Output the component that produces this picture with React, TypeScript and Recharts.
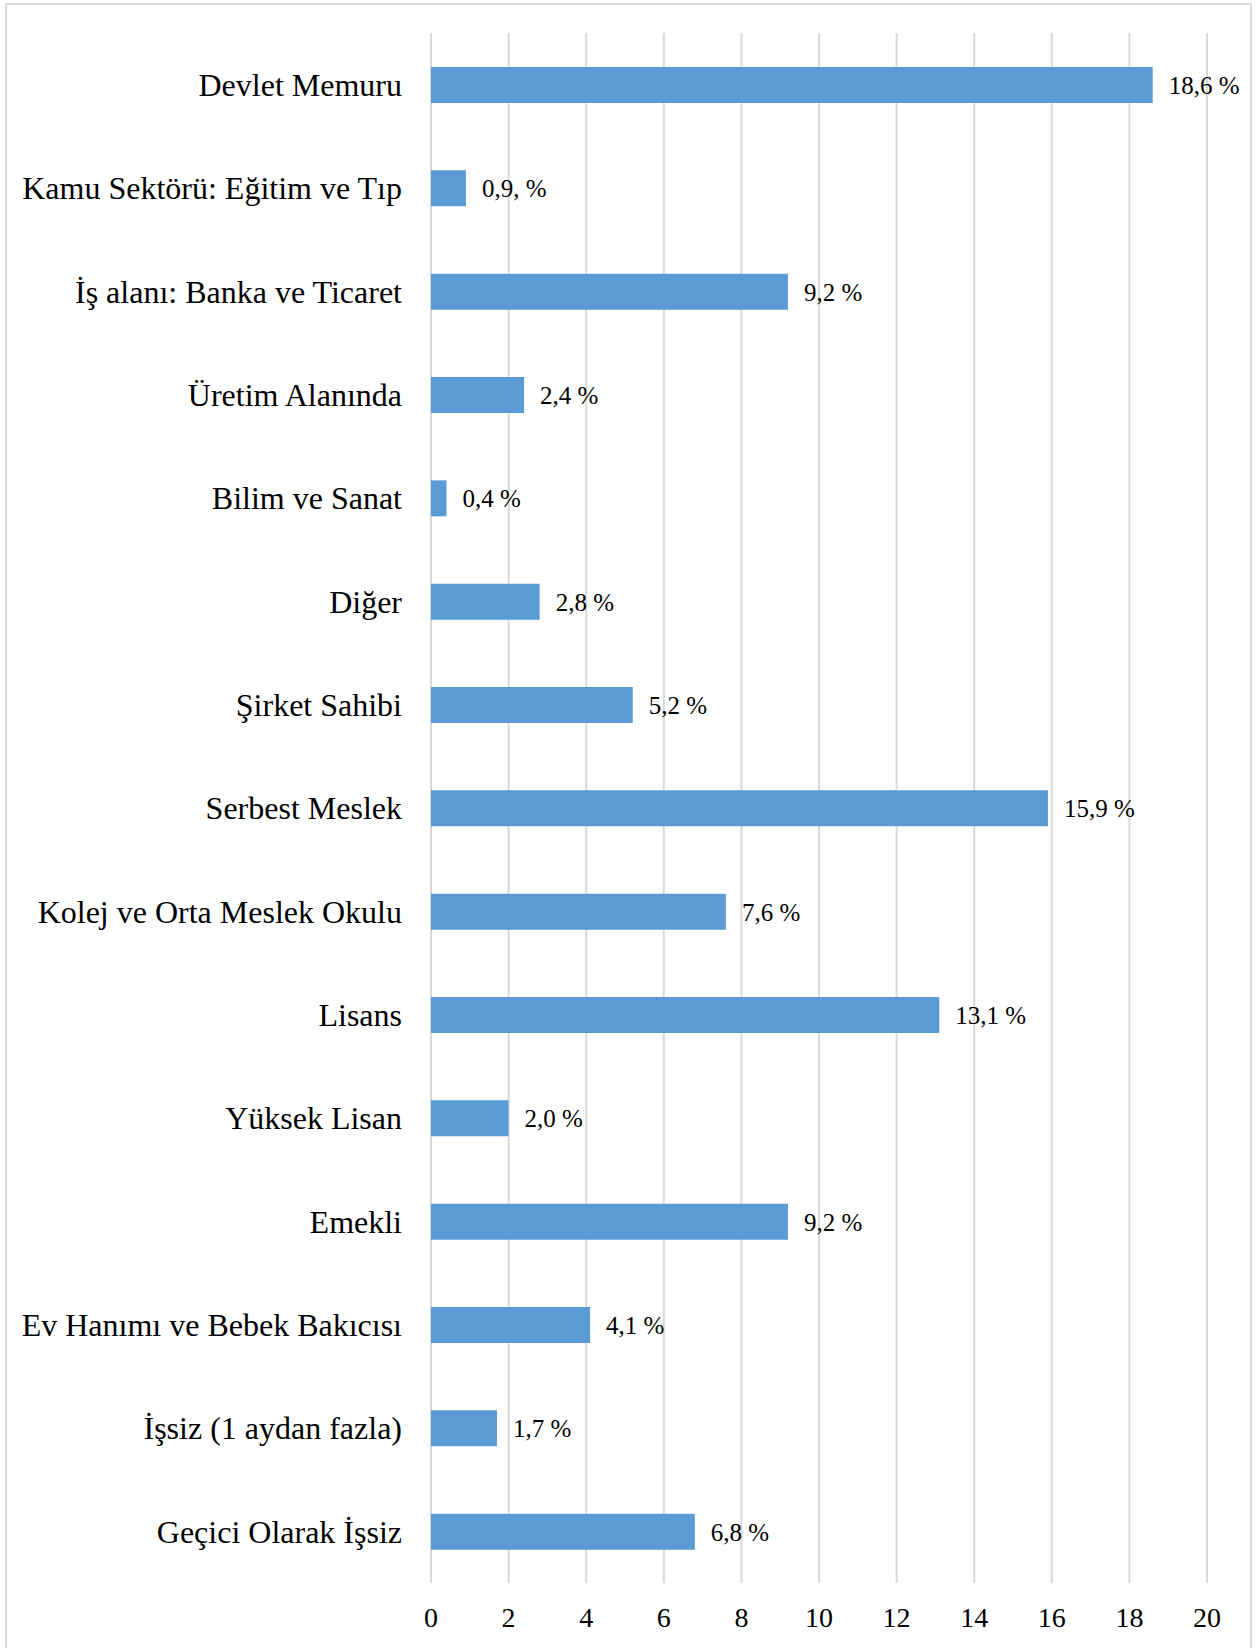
import React from "react";
import { BarChart, Bar, XAxis, YAxis, CartesianGrid, LabelList } from "recharts";

const categories = [
    "Devlet Memuru",
    "Kamu Sektörü: Eğitim ve Tıp",
    "İş alanı: Banka ve Ticaret",
    "Üretim Alanında",
    "Bilim ve Sanat",
    "Diğer",
    "Şirket Sahibi",
    "Serbest Meslek",
    "Kolej ve Orta Meslek Okulu",
    "Lisans",
    "Yüksek Lisan",
    "Emekli",
    "Ev Hanımı ve Bebek Bakıcısı",
    "İşsiz (1 aydan fazla)",
    "Geçici Olarak İşsiz",
];

const values = [18.6, 0.9, 9.2, 2.4, 0.4, 2.8, 5.2, 15.9, 7.6, 13.1, 2.0, 9.2, 4.1, 1.7, 6.8];

const valueLabels = [
    "18,6 %", "0,9, %", "9,2 %", "2,4 %", "0,4 %", "2,8 %", "5,2 %", "15,9 %",
    "7,6 %", "13,1 %", "2,0 %", "9,2 %", "4,1 %", "1,7 %", "6,8 %",
];

const xTicks = [0, 2, 4, 6, 8, 10, 12, 14, 16, 18, 20];

const data = categories.map((name, i) => ({ name, value: values[i], label: valueLabels[i] }));

const FONT = '"Liberation Serif", "Times New Roman", serif';

export default function App() {
    return (
        <div style={{ position: "absolute", left: 0, top: 0, width: 1256, height: 1648, background: "#fff", overflow: "hidden" }}>
            <div
                style={{
                    position: "absolute",
                    left: 5,
                    top: 3,
                    width: 1247,
                    height: 1645,
                    boxSizing: "border-box",
                    border: "2px solid #d9d9d9",
                    borderBottom: "none",
                }}
            />
            <div style={{ position: "absolute", left: 0, top: 0 }}>
                <BarChart
                    width={1256}
                    height={1648}
                    data={data}
                    layout="vertical"
                    margin={{ top: 33, right: 49, bottom: 0, left: 0 }}
                >
                    <CartesianGrid horizontal={false} vertical={true} stroke="#d9d9d9" strokeWidth={2} />
                    <XAxis
                        type="number"
                        domain={[0, 20]}
                        ticks={xTicks}
                        height={65}
                        axisLine={false}
                        tickLine={false}
                        tickSize={0}
                        tickMargin={24}
                        tick={{ fontSize: 28, fill: "#000", fontFamily: FONT }}
                    />
                    <YAxis
                        type="category"
                        dataKey="name"
                        width={431}
                        interval={0}
                        axisLine={false}
                        tickLine={false}
                        tickSize={0}
                        tickMargin={29}
                        tick={{ fontSize: 32, fill: "#000", fontFamily: FONT }}
                    />
                    <Bar dataKey="value" fill="#5b9bd5" barSize={36} isAnimationActive={false}>
                        <LabelList
                            dataKey="label"
                            position="right"
                            offset={16}
                            style={{ fontSize: 25, fill: "#000", fontFamily: FONT }}
                        />
                    </Bar>
                </BarChart>
            </div>
        </div>
    );
}
